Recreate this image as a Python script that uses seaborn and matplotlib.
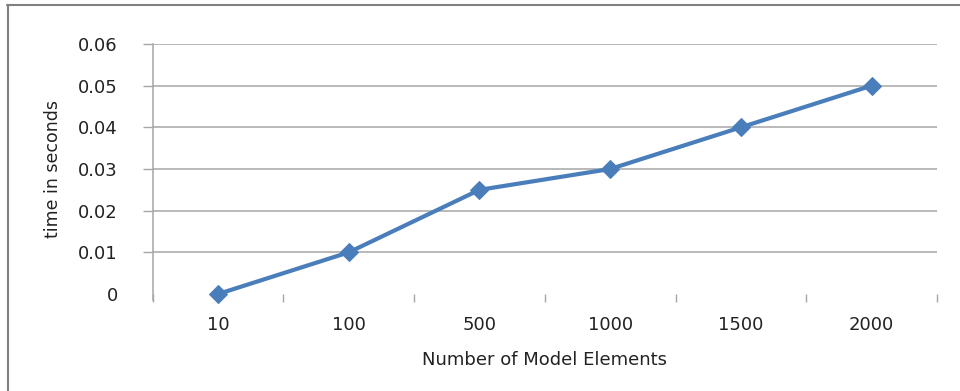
import numpy as np
import pandas as pd
import matplotlib
matplotlib.use("Agg")
import matplotlib.pyplot as plt
import seaborn as sns
from matplotlib.lines import Line2D

# === Data ===
elements = ["10", "100", "500", "1000", "1500", "2000"]
time_sec = [0.0, 0.01, 0.025, 0.03, 0.04, 0.05]
y_ticks = [0, 0.01, 0.02, 0.03, 0.04, 0.05, 0.06]
y_labels = ["0", "0.01", "0.02", "0.03", "0.04", "0.05", "0.06"]

df = pd.DataFrame({"Elements": elements, "Time": time_sec})

sns.set_style("white")
plt.rcParams['font.family'] = ['DejaVu Sans']

fig = plt.figure(figsize=(9.6, 3.91), dpi=100)
ax = fig.add_axes([0.159, 0.248, 0.817, 0.6395])

sns.lineplot(data=df, x="Elements", y="Time", sort=False, ax=ax,
             color="#4a7ebb", linewidth=3, marker="D", markersize=9,
             markeredgecolor="#4a7ebb")
for ln in ax.lines:
    ln.set_clip_on(False)

ax.set_xlim(-0.5, len(elements) - 0.5)
ax.set_ylim(0, 0.06)
ax.set_yticks(y_ticks)
ax.set_yticklabels(y_labels)
ax.yaxis.grid(True, color="#a6a6a6", linewidth=1.1)
ax.set_axisbelow(True)
ax.get_ygridlines()[0].set_visible(False)  # no line at zero

# ticks between categories
ax.set_xticks(range(len(elements)))
ax.set_xticklabels(elements)
ax.set_xticks(np.arange(-0.5, len(elements), 1.0), minor=True)
ax.tick_params(axis="x", which="major", bottom=True, length=0, pad=16, labelsize=13,
               labelcolor="#222222")
ax.tick_params(axis="x", which="minor", bottom=True, length=6, width=1, color="#a6a6a6",
               direction="out", pad=0)
ax.tick_params(axis="y", left=True, length=7, width=1, color="#a6a6a6", direction="out",
               pad=18, labelsize=13, labelcolor="#222222")
ax.yaxis.get_major_ticks()[0].tick1line.set_visible(False)

for s in ["top", "right", "bottom"]:
    ax.spines[s].set_visible(False)
ax.spines["left"].set_color("#a6a6a6")
ax.spines["left"].set_linewidth(1.1)
ax.spines["left"].set_bounds(-0.0015, 0.06)

ax.set_xlabel("Number of Model Elements", fontsize=13, color="#222222", labelpad=12)
ax.set_ylabel("time in seconds", fontsize=12.5, color="#222222", labelpad=12,
              family=["Liberation Sans Narrow", "DejaVu Sans"])

# outer frame (top and left edges)
fig.add_artist(Line2D([7 / 960, 1.0], [1 - 5 / 391, 1 - 5 / 391], transform=fig.transFigure,
                      color="#808080", linewidth=1.5))
fig.add_artist(Line2D([8 / 960, 8 / 960], [0, 1 - 5 / 391], transform=fig.transFigure,
                      color="#808080", linewidth=1.5))

fig.savefig("out.png", dpi=100)
